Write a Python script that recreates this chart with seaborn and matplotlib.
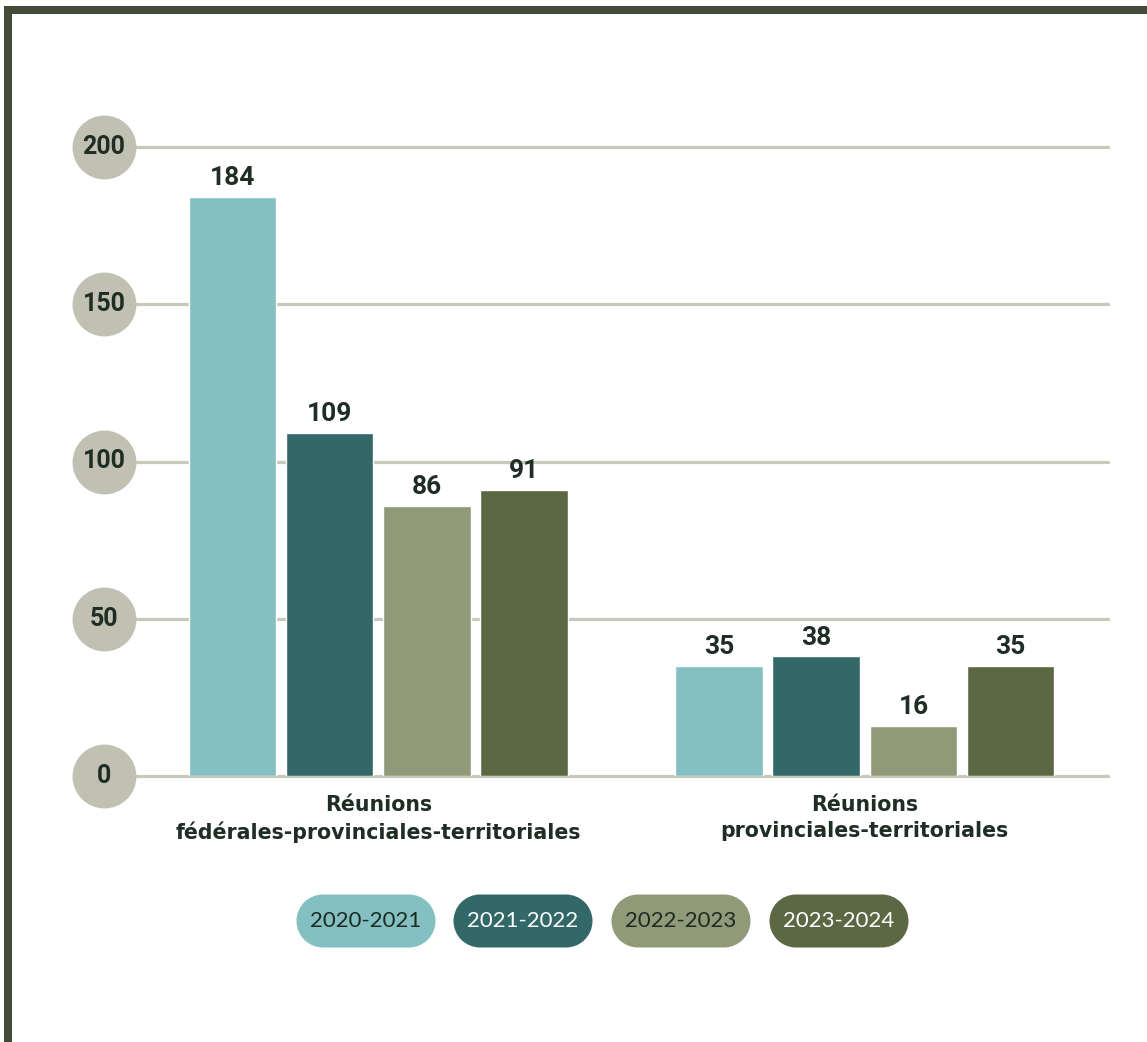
import matplotlib
matplotlib.use("Agg")
import matplotlib.pyplot as plt
from matplotlib.patches import PathPatch, Rectangle
from matplotlib.path import Path
import matplotlib.transforms as mtransforms
import numpy as np
import seaborn as sns
import pandas as pd

# ---- data ----
categories = ["Réunions\nfédérales-provinciales-territoriales",
              "Réunions\nprovinciales-territoriales"]
years = ["2020-2021", "2021-2022", "2022-2023", "2023-2024"]
v_2020_2021 = [184, 35]
v_2021_2022 = [109, 38]
v_2022_2023 = [86, 16]
v_2023_2024 = [91, 35]
series = [v_2020_2021, v_2021_2022, v_2022_2023, v_2023_2024]
yticks = [0, 50, 100, 150, 200]

colors = ["#84c0c1", "#336869", "#909a78", "#5b6843"]
legend_text_colors = ["#1c2a22", "#ffffff", "#1c2a22", "#ffffff"]
dark = "#1f2d25"
grid_c = "#c8c9bb"
circle_c = "#c0c1b2"
border_c = "#434a38"

rows = []
for y, vals in zip(years, series):
    for c, v in zip(categories, vals):
        rows.append({"category": c, "year": y, "value": v})
df = pd.DataFrame(rows)

sns.set_theme(style="white")
plt.rcParams['font.family'] = ['Roboto', 'DejaVu Sans']

W, H = 1147, 1042
fig = plt.figure(figsize=(W / 100, H / 100), dpi=100)
fig.patch.set_facecolor("white")

# axes geometry in pixels
x0, x1 = 135, 1108
y0px, y200px = 776, 147
ax = fig.add_axes([x0 / W, 1 - y0px / H, (x1 - x0) / W, (y0px - y200px) / H])

sns.barplot(data=df, x="category", y="value", hue="year", palette=colors,
            hue_order=years, order=categories, width=0.8, gap=0.1,
            legend=False, ax=ax, saturation=1, zorder=3)
ax.set_xlim(-0.5, 1.5)
ax.set_ylim(0, 200)

for cont in ax.containers:
    ax.bar_label(cont, padding=5, fontsize=19, fontweight="bold", color=dark)

for t in yticks:
    ax.axhline(t, color=grid_c, lw=2.3, zorder=1, clip_on=False)

# circle tick labels
trans = mtransforms.blended_transform_factory(ax.transAxes, ax.transData)
cx = (104 - x0) / (x1 - x0)
ax.scatter([cx] * len(yticks), yticks, s=46 ** 2, color=circle_c,
           transform=trans, clip_on=False, zorder=4, linewidths=0)
for t in yticks:
    ax.text(cx, t, str(t), transform=trans, ha="center", va="center",
            fontsize=18, fontweight="bold", color=dark, zorder=5)

ax.set_yticks([])
ax.set_xlabel("")
ax.set_ylabel("")
ax.tick_params(axis="x", length=0, pad=14)
for lab in ax.get_xticklabels():
    lab.set_fontsize(14.8)
    lab.set_fontweight("bold")
    lab.set_family(["DejaVu Sans"])
    lab.set_color(dark)
    lab.set_linespacing(1.35)
for s in ax.spines.values():
    s.set_visible(False)


def pill_path(cxp, cyp, w, h):
    r = h / 2.0
    xl, xr = cxp - w / 2 + r, cxp + w / 2 - r
    a1 = Path.arc(-90, 90)
    a2 = Path.arc(90, 270)
    v1 = a1.vertices * r + [xr, cyp]
    v2 = a2.vertices * r + [xl, cyp]
    c2 = a2.codes.copy()
    c2[0] = Path.LINETO
    verts = np.vstack([v1, v2, v1[:1]])
    codes = np.concatenate([a1.codes, c2, [Path.CLOSEPOLY]])
    return Path(verts, codes)


# legend pills (pixel coordinates)
pill_w, pill_h = 139, 53
pill_centers = [366, 523, 681, 839]
pill_cy = 921
for yr, col, tc, pcx in zip(years, colors, legend_text_colors, pill_centers):
    pp = PathPatch(pill_path(pcx, H - pill_cy, pill_w, pill_h), transform=None,
                   facecolor=col, edgecolor="none")
    fig.add_artist(pp)
    fig.text(pcx / W, 1 - pill_cy / H, yr, ha="center", va="center",
             fontsize=16, color=tc, family=["Lato", "DejaVu Sans"])

# frame (top and left)
fig.add_artist(Rectangle((4 / W, 0), 8 / W, 1 - 6 / H, transform=fig.transFigure,
                         facecolor=border_c, edgecolor="none"))
fig.add_artist(Rectangle((4 / W, 1 - 14 / H), 1 - 4 / W, 8 / H, transform=fig.transFigure,
                         facecolor=border_c, edgecolor="none"))

fig.savefig("out.png", dpi=100)
